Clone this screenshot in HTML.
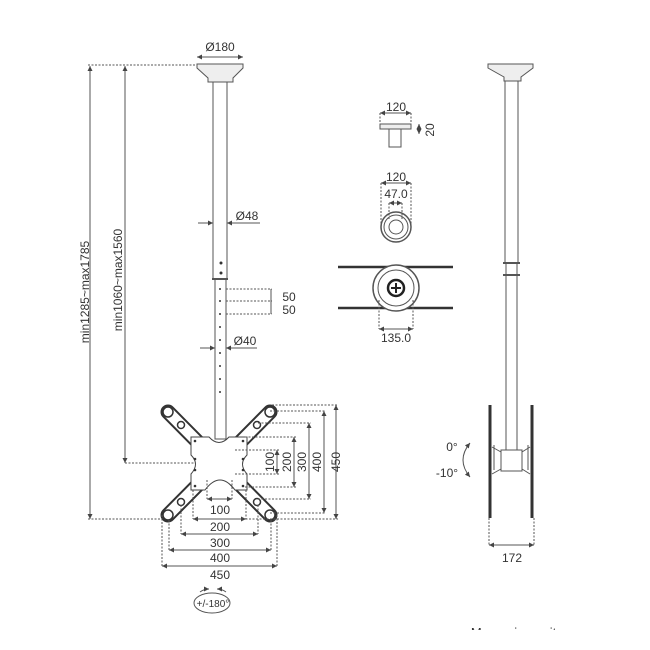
<!DOCTYPE html>
<html><head><meta charset="utf-8"><style>
html,body{margin:0;padding:0;background:#fff}
svg{display:block}
text{font-family:"Liberation Sans",sans-serif;fill:#333}
</style></head><body>
<svg width="650" height="650" viewBox="0 0 650 650" xmlns="http://www.w3.org/2000/svg">
<defs>
<marker id="a" viewBox="0 0 6 6" refX="6" refY="3" markerWidth="5" markerHeight="5" orient="auto-start-reverse"><path d="M0,0L6,3L0,6z" fill="#444"/></marker>
</defs>
<g stroke="#555" stroke-width="1" fill="none">
<path d="M197,64H243V68L233,78V82H208V78L197,68Z" fill="#eee"/>
<line x1="197" y1="57" x2="243" y2="57" marker-start="url(#a)" marker-end="url(#a)"/>
<line x1="88" y1="65" x2="197" y2="65" stroke-dasharray="2,1.5"/>
<rect x="213" y="82" width="14" height="197" fill="#fff"/>
<rect x="215" y="279" width="11" height="160" fill="#fff"/>
<line x1="212" y1="279" x2="228" y2="279" stroke-width="2"/>
<line x1="198" y1="223" x2="213" y2="223" marker-end="url(#a)"/>
<line x1="260" y1="223" x2="227" y2="223" marker-end="url(#a)"/>
<line x1="200" y1="348" x2="215" y2="348" marker-end="url(#a)"/>
<line x1="257" y1="348" x2="226" y2="348" marker-end="url(#a)"/>
<g stroke-dasharray="2,1.5"><line x1="226" y1="289" x2="272" y2="289"/><line x1="226" y1="301" x2="272" y2="301"/><line x1="226" y1="314" x2="272" y2="314"/></g>
<line x1="271" y1="289" x2="271" y2="314"/>
<line x1="90" y1="66" x2="90" y2="519" marker-start="url(#a)" marker-end="url(#a)"/>
<line x1="125" y1="66" x2="125" y2="463" marker-start="url(#a)" marker-end="url(#a)"/>
<line x1="125" y1="463" x2="195" y2="463" stroke-dasharray="2,1.5"/>
<line x1="88" y1="519" x2="165" y2="519" stroke-dasharray="2,1.5"/>
<g stroke="#333" stroke-width="15" stroke-linecap="round"><line x1="168" y1="412" x2="270" y2="515"/><line x1="270" y1="412" x2="168" y2="515"/></g>
<g stroke="#fff" stroke-width="11" stroke-linecap="round"><line x1="168" y1="412" x2="270" y2="515"/><line x1="270" y1="412" x2="168" y2="515"/></g>
<path d="M191,437H209Q219,448 229,437H247V455Q238,464 247,474V490H235Q220,470 205,490H191V474Q200,464 191,455Z" fill="#fff" stroke="#444"/>
<g fill="#fff" stroke="#333" stroke-width="1.5">
<circle cx="168" cy="412" r="5"/><circle cx="270" cy="412" r="5"/><circle cx="168" cy="515" r="5"/><circle cx="270" cy="515" r="5"/>
<circle cx="181" cy="425" r="3.5"/><circle cx="257" cy="425" r="3.5"/><circle cx="181" cy="502" r="3.5"/><circle cx="257" cy="502" r="3.5"/>
</g>
<g stroke-dasharray="2,1.5">
<line x1="272" y1="405" x2="338" y2="405"/><line x1="270" y1="411" x2="326" y2="411"/><line x1="258" y1="423" x2="311" y2="423"/><line x1="245" y1="437" x2="296" y2="437"/><line x1="235" y1="450" x2="279" y2="450"/>
<line x1="235" y1="474" x2="279" y2="474"/><line x1="245" y1="487" x2="296" y2="487"/><line x1="258" y1="499" x2="311" y2="499"/><line x1="270" y1="513" x2="326" y2="513"/><line x1="200" y1="519" x2="338" y2="519"/>
</g>
<g marker-start="url(#a)" marker-end="url(#a)">
<line x1="277" y1="450" x2="277" y2="474"/><line x1="294" y1="437" x2="294" y2="487"/><line x1="309" y1="423" x2="309" y2="499"/><line x1="324" y1="411" x2="324" y2="513"/><line x1="336" y1="405" x2="336" y2="519"/>
<line x1="207" y1="499" x2="232" y2="499"/><line x1="193" y1="519" x2="246" y2="519"/><line x1="181" y1="534" x2="258" y2="534"/><line x1="169" y1="550" x2="271" y2="550"/><line x1="162" y1="566" x2="277" y2="566"/>
</g>
<g stroke-dasharray="2,1.5">
<line x1="207" y1="480" x2="207" y2="499"/><line x1="232" y1="480" x2="232" y2="499"/>
<line x1="193" y1="490" x2="193" y2="519"/><line x1="246" y1="490" x2="246" y2="519"/>
<line x1="181" y1="505" x2="181" y2="534"/><line x1="258" y1="505" x2="258" y2="534"/>
<line x1="169" y1="520" x2="169" y2="550"/><line x1="271" y1="520" x2="271" y2="550"/>
<line x1="162" y1="515" x2="162" y2="566"/><line x1="277" y1="515" x2="277" y2="566"/>
</g>
<ellipse cx="212" cy="603" rx="18" ry="10"/>
<path d="M200,592Q204,589 209,589" marker-end="url(#a)"/><path d="M226,592Q222,589 217,589" marker-end="url(#a)"/>
<rect x="380" y="124" width="31" height="5" fill="#eee"/>
<rect x="389" y="129" width="12" height="18" fill="#fff"/>
<line x1="380" y1="113" x2="411" y2="113" marker-start="url(#a)" marker-end="url(#a)"/>
<line x1="380" y1="113" x2="380" y2="124" stroke-dasharray="2,1.5"/><line x1="411" y1="113" x2="411" y2="124" stroke-dasharray="2,1.5"/>
<line x1="419" y1="124" x2="419" y2="134" marker-start="url(#a)" marker-end="url(#a)"/>
<circle cx="396" cy="227" r="15" stroke-width="1.5"/><circle cx="396" cy="227" r="12"/><circle cx="396" cy="227" r="7"/>
<line x1="381" y1="183" x2="411" y2="183" marker-start="url(#a)" marker-end="url(#a)"/>
<line x1="389" y1="203" x2="402" y2="203" marker-start="url(#a)" marker-end="url(#a)"/>
<g stroke-dasharray="2,1.5"><line x1="381" y1="183" x2="381" y2="227"/><line x1="411" y1="183" x2="411" y2="227"/><line x1="389" y1="203" x2="389" y2="220"/><line x1="402" y1="203" x2="402" y2="220"/></g>
<line x1="338" y1="267" x2="453" y2="267" stroke="#333" stroke-width="2.5"/>
<line x1="338" y1="308" x2="453" y2="308" stroke="#333" stroke-width="2.5"/>
<circle cx="396" cy="288" r="23" fill="#fff" stroke-width="1.5"/><circle cx="396" cy="288" r="18"/>
<circle cx="396" cy="288" r="8" stroke="#222" stroke-width="2.5"/>
<line x1="391" y1="288" x2="401" y2="288" stroke="#222" stroke-width="2"/><line x1="396" y1="283" x2="396" y2="293" stroke="#222" stroke-width="2"/>
<line x1="379" y1="329" x2="413" y2="329" marker-start="url(#a)" marker-end="url(#a)"/>
<g stroke-dasharray="2,1.5"><line x1="379" y1="300" x2="379" y2="329"/><line x1="413" y1="300" x2="413" y2="329"/></g>
<path d="M488,64H533V68L521,77V81H504V77L488,68Z" fill="#eee"/>
<rect x="505" y="81" width="13" height="182" fill="#fff"/>
<rect x="506" y="263" width="11" height="188" fill="#fff"/>
<line x1="503" y1="263" x2="520" y2="263" stroke-width="2"/><line x1="503" y1="275" x2="520" y2="275" stroke-width="2"/>
<line x1="490" y1="405" x2="490" y2="518" stroke="#333" stroke-width="3"/>
<line x1="532" y1="405" x2="532" y2="518" stroke="#333" stroke-width="3"/>
<rect x="501" y="450" width="21" height="21" fill="#fff"/>
<path d="M492,447L501,452M530,447L522,452M492,474L501,469M530,474L522,469"/>
<path d="M494,445V470M528,445V470"/>
<line x1="489" y1="545" x2="534" y2="545" marker-start="url(#a)" marker-end="url(#a)"/>
<g stroke-dasharray="2,1.5"><line x1="489" y1="518" x2="489" y2="545"/><line x1="534" y1="518" x2="534" y2="545"/></g>
<path d="M470,443Q456,460 470,477" marker-start="url(#a)" marker-end="url(#a)"/>
</g>
<g fill="#333">
<circle cx="221" cy="263" r="1.5"/><circle cx="221" cy="273" r="1.5"/>
<circle cx="220" cy="289" r="1"/><circle cx="220" cy="301" r="1"/><circle cx="220" cy="314" r="1"/><circle cx="220" cy="327" r="1"/><circle cx="220" cy="340" r="1"/><circle cx="220" cy="353" r="1"/><circle cx="220" cy="366" r="1"/><circle cx="220" cy="379" r="1"/><circle cx="220" cy="392" r="1"/>
<circle cx="195" cy="441" r="1.3"/><circle cx="243" cy="441" r="1.3"/><circle cx="195" cy="486" r="1.3"/><circle cx="243" cy="486" r="1.3"/><circle cx="195" cy="459" r="1.3"/><circle cx="243" cy="459" r="1.3"/><circle cx="195" cy="470" r="1.3"/><circle cx="243" cy="470" r="1.3"/>
</g>
<g font-size="12" text-anchor="middle">
<text x="220" y="51">Ø180</text>
<text x="247" y="220">Ø48</text>
<text x="289" y="301">50</text><text x="289" y="314">50</text>
<text x="245" y="345">Ø40</text>
<text x="220" y="514">100</text><text x="220" y="531">200</text><text x="220" y="547">300</text><text x="220" y="562">400</text><text x="220" y="579">450</text>
<text x="213" y="607" font-size="10">+/-180°</text>
<text x="396" y="111">120</text><text x="396" y="181">120</text><text x="396" y="198">47.0</text><text x="396" y="342">135.0</text>
<text x="512" y="562">172</text>
<text x="452" y="451">0°</text><text x="447" y="477">-10°</text>
<text x="528" y="637" font-size="13">Measuring unit: mm</text>
</g>
<g font-size="12" text-anchor="middle">
<text transform="translate(274,462) rotate(-90)">100</text>
<text transform="translate(291,462) rotate(-90)">200</text>
<text transform="translate(306,462) rotate(-90)">300</text>
<text transform="translate(321,462) rotate(-90)">400</text>
<text transform="translate(340,462) rotate(-90)">450</text>
<text transform="translate(434,130) rotate(-90)">20</text>
<text transform="translate(89,292) rotate(-90)">min1285~max1785</text>
<text transform="translate(122,280) rotate(-90)">min1060~max1560</text>
</g>
<rect x="440" y="630" width="200" height="20" fill="#fff"/>
</svg>
</body></html>
